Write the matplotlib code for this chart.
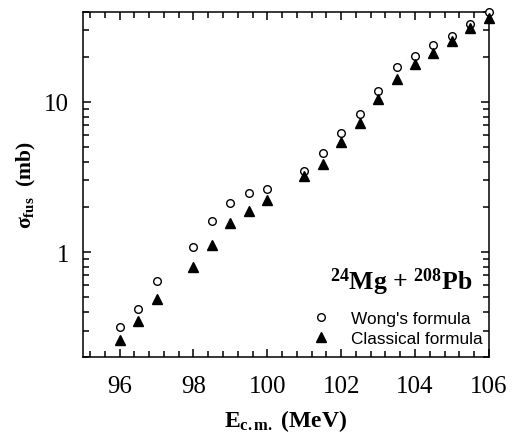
import matplotlib.pyplot as plt
from matplotlib.ticker import AutoMinorLocator, LogLocator, NullFormatter, FixedLocator

# energies (MeV) and fusion cross sections (mb)
e_cm = [96, 96.5, 97, 98, 98.5, 99, 99.5, 100, 101, 101.5, 102, 102.5,
        103, 103.5, 104, 104.5, 105, 105.5, 106]
sig_wong = [0.318, 0.42, 0.638, 1.08, 1.60, 2.12, 2.48, 2.63, 3.48, 4.56, 6.26,
            8.32, 11.8, 17.1, 20.4, 23.8, 27.4, 33.2, 39.6]
sig_class = [0.259, 0.348, 0.485, 0.80, 1.11, 1.57, 1.87, 2.22, 3.20, 3.86, 5.42,
             7.30, 10.5, 14.3, 18.0, 21.3, 25.6, 31.0, 36.3]

plt.rcParams['font.family'] = ['Liberation Serif', 'DejaVu Serif']
plt.rcParams['mathtext.fontset'] = 'custom'
plt.rcParams['mathtext.rm'] = 'Liberation Serif'
plt.rcParams['mathtext.bf'] = 'Liberation Serif:bold'
plt.rcParams['mathtext.it'] = 'Liberation Serif:italic'

fig = plt.figure(figsize=(5.14, 4.35), dpi=100)
ax = fig.add_axes([0.161, 0.177, 0.79, 0.794])

ax.plot(e_cm, sig_wong, linestyle='none', marker='o', ms=5.5, mfc='white',
        mec='black', mew=1.0, label="Wong's formula", clip_on=False, zorder=3)
ax.plot(e_cm, sig_class, linestyle='none', marker='^', ms=6.5, color='black',
        label='Classical formula', clip_on=False, zorder=3)

ax.set_yscale('log')
ax.set_xlim(95, 106)
ax.set_ylim(0.2, 40)

ax.set_xticks([96, 98, 100, 102, 104, 106])
ax.xaxis.set_minor_locator(AutoMinorLocator(5))
ax.yaxis.set_major_locator(FixedLocator([1, 10]))
ax.yaxis.set_major_formatter(plt.FuncFormatter(lambda v, p: '%g' % v))
ax.yaxis.set_minor_locator(LogLocator(base=10, subs=range(2, 10)))
ax.yaxis.set_minor_formatter(NullFormatter())

ax.tick_params(which='both', direction='in', top=True, right=True, width=1.1,
               labelsize=18)
ax.tick_params(axis='x', which='major', pad=13)
ax.tick_params(axis='y', which='major', pad=10)
ax.tick_params(which='major', length=6)
ax.tick_params(which='minor', length=4.2)
for s in ax.spines.values():
    s.set_linewidth(1.1)

ax.set_xlabel(r'$\mathbf{E_{c.m.}}$ (MeV)', fontsize=17, fontweight='bold', labelpad=7)
ax.set_ylabel(r'$\mathbf{\sigma_{fus}}$  (mb)', fontsize=15.5, fontweight='bold', labelpad=4)

ax.text(0.96, 0.197, r'$\mathbf{^{24}Mg}$ + $\mathbf{^{208}Pb}$', transform=ax.transAxes,
        ha='right', va='baseline', fontsize=18.5, fontweight='bold')

leg = ax.legend(loc='lower right', bbox_to_anchor=(1.013, 0.0), frameon=False,
                prop={'family': 'Liberation Sans', 'size': 12.4},
                handletextpad=1.0, borderaxespad=0.25, labelspacing=0.3, handlelength=1.5)

fig.savefig('out.png', dpi=100)
